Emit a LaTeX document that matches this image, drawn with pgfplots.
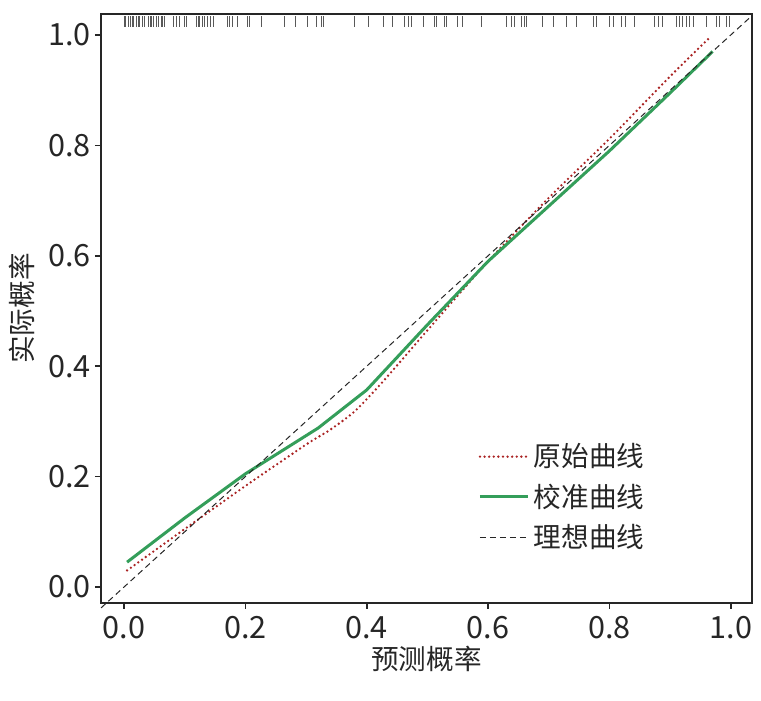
\documentclass[border=0pt]{standalone}
\usepackage{fontspec}
\setmainfont{Noto Sans CJK SC}
\usepackage{pgfplots}
\pgfplotsset{compat=1.18}
\definecolor{axgray}{RGB}{38,38,38}
\definecolor{origred}{RGB}{170,35,35}
\definecolor{calgreen}{RGB}{52,158,90}
\begin{document}
\begin{tikzpicture}
\begin{axis}[
  scale only axis,
  width=325.5pt, height=294.5pt,
  xmin=-0.038, xmax=1.035,
  ymin=-0.029, ymax=1.038,
  axis line style={axgray, line width=1pt},
  xtick={0,0.2,0.4,0.6,0.8,1.0},
  ytick={0,0.2,0.4,0.6,0.8,1.0},
  xticklabels={0.0,0.2,0.4,0.6,0.8,1.0},
  yticklabels={0.0,0.2,0.4,0.6,0.8,1.0},
  tick align=outside,
  xtick pos=bottom, ytick pos=left,
  major tick length=3pt,
  tick style={axgray, line width=0.8pt},
  ticklabel style={font=\fontsize{15.3}{17}\selectfont, text=axgray},
  yticklabel style={xshift=1.5pt},
  /pgf/number format/assume math mode=true,
  xlabel={预测概率}, ylabel={实际概率},
  label style={font=\fontsize{13.8}{16}\selectfont, text=axgray},
  xlabel style={yshift=3pt},
  ylabel style={yshift=0pt},
  legend style={at={(0.570,0.285)}, anchor=north west, draw=none, fill=none,
    font=\fontsize{13.8}{16}\selectfont, text=axgray, row sep=3pt},
  legend cell align=left,
  legend image code/.code={\draw[#1] (0cm,0cm) -- (0.85cm,0cm);},
  clip=false,
]
\addplot[origred, smooth, tension=0.4, line width=1.3pt, line cap=round, dash pattern=on 0pt off 2.3pt]
coordinates {(0.005,0.030)(0.1,0.105)(0.2,0.183)(0.3,0.258)(0.34,0.285)(0.38,0.318)(0.42,0.364)(0.46,0.414)(0.5,0.465)(0.6,0.590)(0.7,0.705)(0.8,0.812)(0.9,0.925)(0.965,0.995)};
\addlegendentry{原始曲线}
\addplot[calgreen, line width=1.5pt]
coordinates {(0.005,0.045)(0.1,0.125)(0.2,0.205)(0.32,0.288)(0.4,0.357)(0.5,0.475)(0.6,0.590)(0.7,0.690)(0.8,0.790)(0.9,0.895)(0.97,0.970)};
\addlegendentry{校准曲线}
\addplot[axgray, line width=0.5pt, dash pattern=on 3pt off 2pt]
coordinates {(-0.038,-0.038)(1.035,1.035)};
\addlegendentry{理想曲线}
\addplot[only marks, mark=|, mark size=2.75pt, mark options={black!65, line width=0.4pt}, forget plot]
coordinates {(0.0,1.024)(0.001,1.024)(0.002,1.024)(0.003,1.024)(0.007,1.024)(0.010,1.024)(0.013,1.024)(0.016,1.024)(0.020,1.024)(0.023,1.024)(0.026,1.024)(0.031,1.024)(0.033,1.024)(0.040,1.024)(0.043,1.024)(0.045,1.024)(0.048,1.024)(0.049,1.024)(0.053,1.024)(0.056,1.024)(0.061,1.024)(0.064,1.024)(0.066,1.024)(0.081,1.024)(0.082,1.024)(0.086,1.024)(0.091,1.024)(0.099,1.024)(0.102,1.024)(0.119,1.024)(0.122,1.024)(0.125,1.024)(0.129,1.024)(0.132,1.024)(0.137,1.024)(0.143,1.024)(0.148,1.024)(0.171,1.024)(0.174,1.024)(0.178,1.024)(0.186,1.024)(0.204,1.024)(0.207,1.024)(0.226,1.024)(0.265,1.024)(0.282,1.024)(0.302,1.024)(0.317,1.024)(0.325,1.024)(0.328,1.024)(0.379,1.024)(0.402,1.024)(0.427,1.024)(0.443,1.024)(0.462,1.024)(0.468,1.024)(0.473,1.024)(0.493,1.024)(0.511,1.024)(0.514,1.024)(0.528,1.024)(0.531,1.024)(0.550,1.024)(0.558,1.024)(0.589,1.024)(0.630,1.024)(0.638,1.024)(0.644,1.024)(0.655,1.024)(0.660,1.024)(0.663,1.024)(0.689,1.024)(0.707,1.024)(0.729,1.024)(0.745,1.024)(0.773,1.024)(0.778,1.024)(0.800,1.024)(0.806,1.024)(0.819,1.024)(0.826,1.024)(0.841,1.024)(0.874,1.024)(0.880,1.024)(0.888,1.024)(0.910,1.024)(0.916,1.024)(0.921,1.024)(0.927,1.024)(0.932,1.024)(0.938,1.024)(0.960,1.024)(0.976,1.024)(0.982,1.024)(0.993,1.024)(0.998,1.024)};
\end{axis}
\path (current axis.north east) ++(4.5pt,7pt);
\path (current axis.south west) ++(-50.5pt,-49pt);
\end{tikzpicture}
\end{document}
